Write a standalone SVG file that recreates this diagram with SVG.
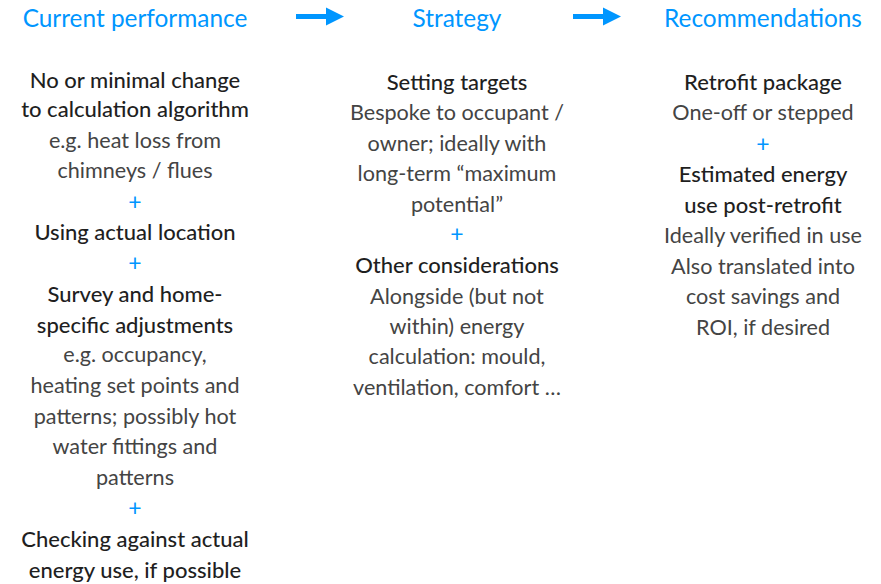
<svg xmlns="http://www.w3.org/2000/svg" width="881" height="584" viewBox="0 0 881 584">
<style>
text{font-family:Lato,"Noto Sans",sans-serif;text-anchor:middle}
.t{fill:#0096ff;font-size:24.4px}
.h{fill:#1f1f1f;font-size:22px;font-weight:500}
.b{fill:#444;font-size:21.6px}
.p{fill:#0096ff;font-size:23px}
</style>
<defs>
<path id="arr" d="M0,-2.5 H30 V-9 L48,0 L30,9 V2.5 H0 Z" fill="#0096ff"/>
</defs>
<rect width="881" height="584" fill="#fff"/>
<g id="connectors">
<use href="#arr" x="296" y="16.5"/>
<use href="#arr" x="573" y="16.5"/>
</g>
<g id="col1">
<text class="t" x="135" y="27">Current performance</text>
<text class="h" x="135" y="88">No or minimal change</text>
<text class="h" x="135" y="117">to calculation algorithm</text>
<text class="b" x="135" y="148">e.g. heat loss from</text>
<text class="b" x="135" y="178">chimneys / flues</text>
<text class="p" x="135" y="210">+</text>
<text class="h" x="135" y="240">Using actual location</text>
<text class="p" x="135" y="271">+</text>
<text class="h" x="135" y="302">Survey and home-</text>
<text class="h" x="135" y="333">specific adjustments</text>
<text class="b" x="135" y="362">e.g. occupancy,</text>
<text class="b" x="135" y="393">heating set points and</text>
<text class="b" x="135" y="424">patterns; possibly hot</text>
<text class="b" x="135" y="454">water fittings and</text>
<text class="b" x="135" y="485">patterns</text>
<text class="p" x="135" y="516">+</text>
<text class="h" x="135" y="547">Checking against actual</text>
<text class="h" x="135" y="578">energy use, if possible</text>
</g>
<g id="col2">
<text class="t" x="457" y="27">Strategy</text>
<text class="h" x="457" y="90">Setting targets</text>
<text class="b" x="457" y="120">Bespoke to occupant /</text>
<text class="b" x="457" y="151">owner; ideally with</text>
<text class="b" x="457" y="181">long-term “maximum</text>
<text class="b" x="457" y="212">potential”</text>
<text class="p" x="457" y="242">+</text>
<text class="h" x="457" y="273">Other considerations</text>
<text class="b" x="457" y="304">Alongside (but not</text>
<text class="b" x="457" y="334">within) energy</text>
<text class="b" x="457" y="364">calculation: mould,</text>
<text class="b" x="457" y="395">ventilation, comfort …</text>
</g>
<g id="col3">
<text class="t" x="763" y="27">Recommendations</text>
<text class="h" x="763" y="90">Retrofit package</text>
<text class="b" x="763" y="120">One-off or stepped</text>
<text class="p" x="763" y="152">+</text>
<text class="h" x="763" y="182">Estimated energy</text>
<text class="h" x="763" y="213">use post-retrofit</text>
<text class="b" x="763" y="243">Ideally verified in use</text>
<text class="b" x="763" y="274">Also translated into</text>
<text class="b" x="763" y="304">cost savings and</text>
<text class="b" x="763" y="335">ROI, if desired</text>
</g>
</svg>
